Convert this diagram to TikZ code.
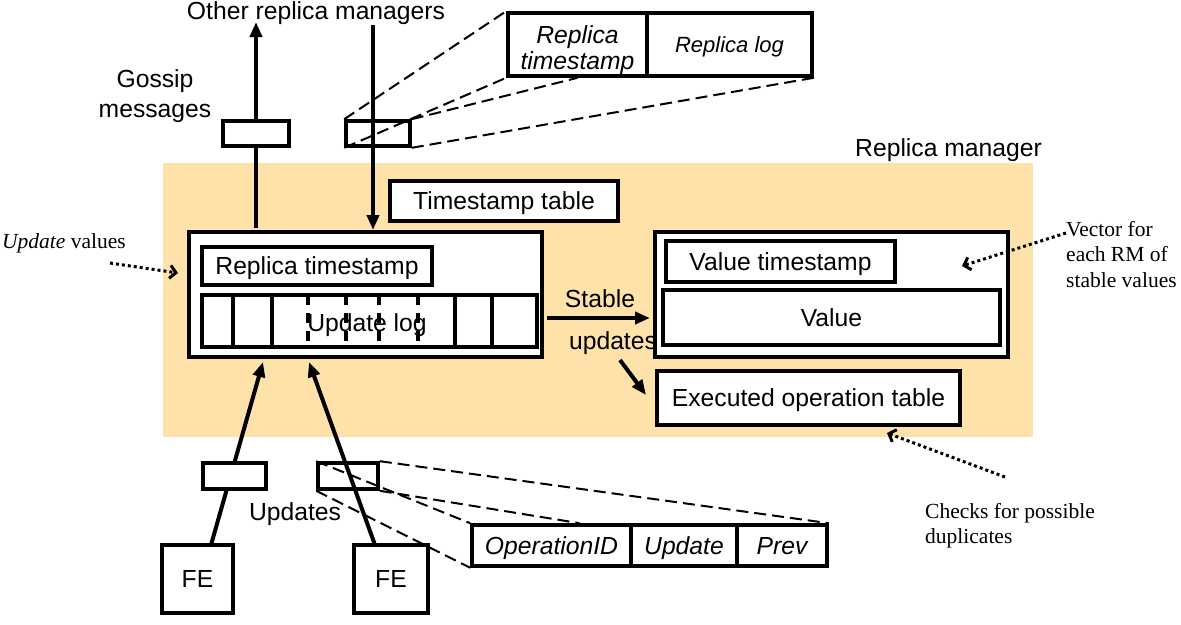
\documentclass[tikz,border=0pt]{standalone}
\usepackage{fontspec}
\setmainfont{Liberation Serif}
\setsansfont{Liberation Sans}
\usetikzlibrary{arrows.meta,calc}
\definecolor{rmbg}{RGB}{255,226,170}
\begin{document}
\begin{tikzpicture}[x=1pt,y=-1pt,
  sf/.style={font=\sffamily\fontsize{24.7}{29}\selectfont},
  sfi/.style={font=\sffamily\itshape\fontsize{24.7}{26}\selectfont},
  rm/.style={font=\fontsize{21.5}{25.5}\selectfont},
  box/.style={draw, line width=3.6pt, fill=white, inner sep=0pt, sf, text height=17.5pt, text depth=0pt},
  hollow/.style={draw, line width=3.6pt, inner sep=0pt},
  thickline/.style={line width=4pt},
  arr/.style={line width=4pt, -{Triangle[length=15pt,width=12pt]}},
  dashline/.style={line width=2pt, dash pattern=on 12pt off 6pt},
  dotarr/.style={line width=3pt, dash pattern=on 3pt off 3pt, -{Straight Barb[length=6pt,width=13pt,line width=3pt]}},
  divsolid/.style={line width=4pt},
  divdash/.style={line width=4pt, dash pattern=on 10pt off 8pt}
]
\useasboundingbox (0,0) rectangle (1181,624);
% background
\node (rmbox) [fill=rmbg, minimum width=870pt, minimum height=274pt, inner sep=0pt, anchor=north west] at (163,163) {};
\node (rmlabel) [sf, anchor=west, inner sep=0pt] at (855,150) {Replica manager};

% coordinates for connector ends
\coordinate (gup) at (256,22);
\coordinate (gupstart) at (256,228);
\coordinate (gdown) at (373,25);
\coordinate (gdownend) at (373,230);
\coordinate (fe1top) at (211,545);
\coordinate (fe1tip) at (263,362);
\coordinate (fe2top) at (375,545);
\coordinate (fe2tip) at (309,362);
\coordinate (st1) at (547,318);
\coordinate (st2) at (650,318);
\coordinate (ex1) at (620,360);
\coordinate (ex2) at (646,395);

% arrows (drawn below boxes)
\draw[arr] (gupstart) -- (gup);
\draw[arr] (gdown) -- (gdownend);
\draw[arr] (fe1top) -- (fe1tip);
\draw[arr] (fe2top) -- (fe2tip);
\draw[arr] (st1) -- (st2);
\draw[arr] (ex1) -- (ex2);

% texts
\node (orm) [sf, inner sep=0pt] at (316,13) {Other replica managers};
\node (gossip) [sf, inner sep=0pt] at (155,81) {Gossip};
\node (messages) [sf, inner sep=0pt] at (155,113) {messages};
\node (stable) [sf, inner sep=0pt] at (600,299) {Stable};
\node (updatesS) [sf, inner sep=0pt] at (613,343) {updates};
\node (updates) [sf, inner sep=0pt] at (295,514) {Updates};

% gossip boxes
\node (g1) [box, minimum width=66pt, minimum height=25pt] at (256,133.5) {};
\node (g2) [hollow, minimum width=64pt, minimum height=25pt] at (378,133.5) {};

% top record
\node (topL) [box, minimum width=139pt, minimum height=63pt] at (577.5,44.5) {};
\node (topLtext) [sfi, align=center, inner sep=0pt] at (577.5,50) {Replica\\timestamp};
\node (topR) [box, minimum width=165pt, minimum height=63pt, font=\sffamily\itshape\fontsize{22}{26}\selectfont, text height=15.8pt] at (729.5,44.5) {Replica log};

% timestamp table
\node (tstable) [box, minimum width=228pt, minimum height=40pt] at (504,201) {Timestamp table};

% main box
\node (main) [box, minimum width=353pt, minimum height=125pt] at (365.5,294.5) {};
\node (rts) [box, minimum width=230pt, minimum height=38pt] at (317,266) {Replica timestamp};
\node (ulog) [box, minimum width=335pt, minimum height=52pt] at (369.5,321) {};
\foreach \xx in {233,272,455,492} \draw[divsolid] (\xx,295) -- (\xx,347);
\foreach \xx in {308,346,379,418} \draw[divdash] (\xx,295) -- (\xx,347);
\node (ulogtext) [sf, inner sep=0pt] at (367,325) {Update log};

% value box
\node (valbox) [box, minimum width=353pt, minimum height=125pt] at (831.5,294.5) {};
\node (vts) [box, minimum width=229pt, minimum height=41pt] at (780.5,261.5) {Value timestamp};
\node (val) [box, minimum width=337pt, minimum height=55pt] at (831.5,317.5) {Value};
\node (exec) [box, minimum width=303pt, minimum height=54pt] at (808.5,398) {Executed operation table};

% update boxes
\node (u1) [box, minimum width=63pt, minimum height=26pt] at (234.5,476) {};
\node (u2) [hollow, minimum width=60pt, minimum height=26pt] at (348,476) {};

% FE
\node (fe1) [box, minimum width=71pt, minimum height=68pt] at (197.5,579) {FE};
\node (fe2) [box, minimum width=74pt, minimum height=68pt] at (391,579) {FE};

% operation record
\node (op1) [box, sfi, minimum width=159pt, minimum height=41pt, text height=17.5pt, text depth=0pt] at (551.5,545.5) {OperationID};
\node (op2) [box, sfi, minimum width=106pt, minimum height=41pt, text height=17.5pt, text depth=0pt] at (684,545.5) {Update};
\node (op3) [box, sfi, minimum width=90pt, minimum height=41pt, text height=17.5pt, text depth=0pt] at (782,545.5) {Prev};

% dashed expansion lines
\draw[dashline] (g2.north west) -- (topL.north west);
\draw[dashline] (g2.south west) -- (topL.south west);
\draw[dashline] (g2.north east) -- (topL.south);
\draw[dashline] (g2.south east) -- (topR.south east);
\coordinate (opmid) at ($(op1.north)+(28,0)$);
\draw[dashline] (u2.north west) -- (op1.north west);
\draw[dashline] (u2.south west) -- (op1.south west);
\draw[dashline] (u2.north east) -- (op3.north east);
\draw[dashline] (u2.south east) -- (opmid);

% annotations
\node (uvtxt) [rm, anchor=west, inner sep=0pt] at (2,243) {\textit{Update} values};
\coordinate (uv1) at (110,263);
\coordinate (uv2) at (178,273);
\draw[dotarr] (uv1) -- (uv2);

\node (vectxt) [rm, anchor=north west, align=left, inner sep=0pt] at (1066,221) {Vector for\\each RM of\\stable values};
\coordinate (ve1) at (1066,233);
\coordinate (ve2) at (962,266);
\draw[dotarr] (ve1) -- (ve2);

\node (chktxt) [rm, anchor=north west, align=left, inner sep=0pt] at (925,503) {Checks for possible\\duplicates};
\coordinate (ck1) at (1005,477);
\coordinate (ck2) at (887,433);
\draw[dotarr] (ck1) -- (ck2);
\end{tikzpicture}
\end{document}
